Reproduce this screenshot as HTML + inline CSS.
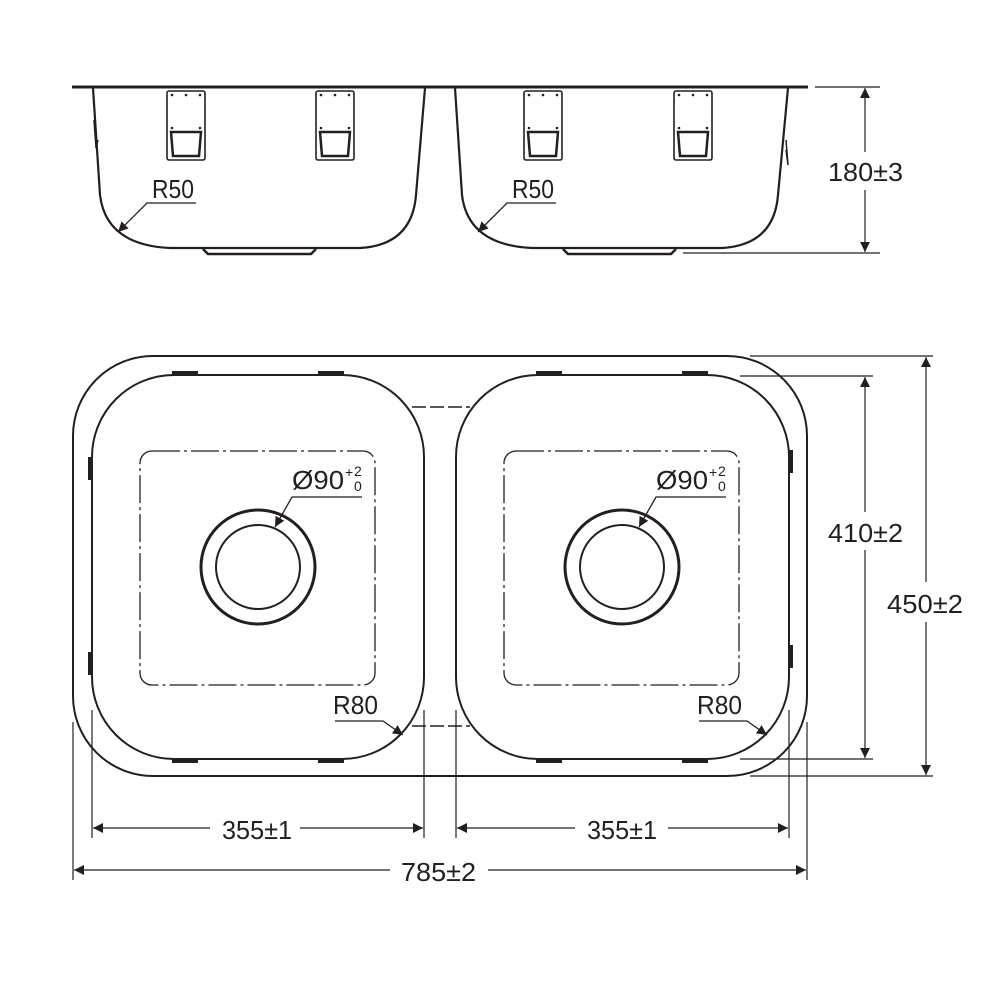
<!DOCTYPE html>
<html><head><meta charset="utf-8"><style>
html,body{margin:0;padding:0;background:#fff;}
svg{display:block}
text{font-family:"Liberation Sans",sans-serif;font-size:26px;fill:#231f20}
</style></head><body>
<svg width="1000" height="1000" viewBox="0 0 1000 1000" xmlns="http://www.w3.org/2000/svg">
<defs>
<marker id="a" viewBox="0 0 10 10" refX="10" refY="5" markerWidth="12" markerHeight="10" markerUnits="userSpaceOnUse" orient="auto-start-reverse"><path d="M0,0 L10,5 L0,10 z" fill="#231f20"/></marker>
</defs>
<g stroke="#231f20" fill="none">
<line x1="72" y1="87" x2="808" y2="87" stroke-width="3"/>
<path d="M93,88 L100,195 Q106,245 170,248 L360,248 Q412,245 416,195 L425,88" stroke-width="2.2"/>
<path d="M455,88 L462,195 Q468,245 532,248 L722,248 Q774,245 778,195 L788,88" stroke-width="2.2"/>
<path d="M203,249 L208,254 L311,254 L316,249" stroke-width="2.5"/>
<path d="M563,249 L568,254 L671,254 L676,249" stroke-width="2.5"/>
<path d="M94,120 L96,148 L98,140" stroke-width="1.5"/>
<path d="M786,140 L788,165 L786,150" stroke-width="1.5"/>
<g stroke-width="1.6">
<rect x="167" y="91" width="38" height="69" rx="2"/><path d="M171,132 L201,132 L199,156 L173,156 Z" stroke-width="2.5"/>
<rect x="316" y="91" width="38" height="69" rx="2"/><path d="M320,132 L350,132 L348,156 L322,156 Z" stroke-width="2.5"/>
<rect x="524" y="91" width="38" height="69" rx="2"/><path d="M528,132 L558,132 L556,156 L530,156 Z" stroke-width="2.5"/>
<rect x="674" y="91" width="38" height="69" rx="2"/><path d="M678,132 L708,132 L706,156 L680,156 Z" stroke-width="2.5"/>
</g>
<g fill="#231f20" stroke="none">
<circle cx="172" cy="95" r="1.3"/><circle cx="186" cy="95" r="1.3"/><circle cx="200" cy="95" r="1.3"/><circle cx="172" cy="128" r="1.3"/><circle cx="200" cy="128" r="1.3"/>
<circle cx="321" cy="95" r="1.3"/><circle cx="335" cy="95" r="1.3"/><circle cx="349" cy="95" r="1.3"/><circle cx="321" cy="128" r="1.3"/><circle cx="349" cy="128" r="1.3"/>
<circle cx="529" cy="95" r="1.3"/><circle cx="543" cy="95" r="1.3"/><circle cx="557" cy="95" r="1.3"/><circle cx="529" cy="128" r="1.3"/><circle cx="557" cy="128" r="1.3"/>
<circle cx="679" cy="95" r="1.3"/><circle cx="693" cy="95" r="1.3"/><circle cx="707" cy="95" r="1.3"/><circle cx="679" cy="128" r="1.3"/><circle cx="707" cy="128" r="1.3"/>
</g>
<path d="M196,203 L147,203 L118,232" stroke-width="1.3" marker-end="url(#a)"/>
<path d="M556,203 L507,203 L478,232" stroke-width="1.3" marker-end="url(#a)"/>
<line x1="815" y1="87" x2="880" y2="87" stroke-width="1.2"/>
<line x1="683" y1="253" x2="880" y2="253" stroke-width="1.2"/>
<line x1="865" y1="88" x2="865" y2="152" stroke-width="1.2" marker-start="url(#a)"/>
<line x1="865" y1="190" x2="865" y2="252" stroke-width="1.2" marker-end="url(#a)"/>

<rect x="73" y="356" width="734" height="420" rx="80" stroke-width="2"/>
<rect x="92" y="375" width="332" height="384" rx="82" stroke-width="2"/>
<rect x="456" y="375" width="333" height="384" rx="82" stroke-width="2"/>
<g stroke-width="1.3" stroke-dasharray="28,4,3,4">
<rect x="140" y="451" width="235" height="234" rx="12"/>
<rect x="504" y="451" width="235" height="234" rx="12"/>
</g>
<g stroke-width="1.5" stroke-dasharray="14,4">
<line x1="412" y1="407" x2="470" y2="407"/>
<line x1="412" y1="726" x2="470" y2="726"/>
</g>
<circle cx="258" cy="567" r="57" stroke-width="3"/>
<circle cx="258" cy="567" r="42" stroke-width="2"/>
<circle cx="622" cy="567" r="57" stroke-width="3"/>
<circle cx="622" cy="567" r="42" stroke-width="2"/>
<g stroke-width="4">
<line x1="172" y1="373" x2="198" y2="373"/><line x1="318" y1="373" x2="344" y2="373"/>
<line x1="172" y1="761" x2="198" y2="761"/><line x1="318" y1="761" x2="344" y2="761"/>
<line x1="536" y1="373" x2="562" y2="373"/><line x1="682" y1="373" x2="708" y2="373"/>
<line x1="536" y1="761" x2="562" y2="761"/><line x1="682" y1="761" x2="708" y2="761"/>
<line x1="90" y1="457" x2="90" y2="480"/><line x1="90" y1="652" x2="90" y2="675"/>
<line x1="791" y1="450" x2="791" y2="473"/><line x1="791" y1="645" x2="791" y2="668"/>
</g>
<path d="M362,497 L292,497 L275,527" stroke-width="1.3" marker-end="url(#a)"/>
<path d="M726,497 L656,497 L639,527" stroke-width="1.3" marker-end="url(#a)"/>
<path d="M335,721 L383,721 L403,735" stroke-width="1.3" marker-end="url(#a)"/>
<path d="M699,721 L747,721 L767,735" stroke-width="1.3" marker-end="url(#a)"/>
<line x1="740" y1="376" x2="873" y2="376" stroke-width="1.2"/>
<line x1="740" y1="759" x2="873" y2="759" stroke-width="1.2"/>
<line x1="750" y1="356" x2="933" y2="356" stroke-width="1.2"/>
<line x1="750" y1="776" x2="933" y2="776" stroke-width="1.2"/>
<line x1="865" y1="377" x2="865" y2="512" stroke-width="1.2" marker-start="url(#a)"/>
<line x1="865" y1="550" x2="865" y2="758" stroke-width="1.2" marker-end="url(#a)"/>
<line x1="926" y1="357" x2="926" y2="582" stroke-width="1.2" marker-start="url(#a)"/>
<line x1="926" y1="622" x2="926" y2="775" stroke-width="1.2" marker-end="url(#a)"/>
<line x1="73" y1="722" x2="73" y2="880" stroke-width="1.2"/>
<line x1="92" y1="710" x2="92" y2="838" stroke-width="1.2"/>
<line x1="424" y1="710" x2="424" y2="838" stroke-width="1.2"/>
<line x1="456" y1="710" x2="456" y2="838" stroke-width="1.2"/>
<line x1="789" y1="710" x2="789" y2="838" stroke-width="1.2"/>
<line x1="807" y1="722" x2="807" y2="880" stroke-width="1.2"/>
<line x1="93" y1="828" x2="210" y2="828" stroke-width="1.2" marker-start="url(#a)"/>
<line x1="300" y1="828" x2="423" y2="828" stroke-width="1.2" marker-end="url(#a)"/>
<line x1="457" y1="828" x2="575" y2="828" stroke-width="1.2" marker-start="url(#a)"/>
<line x1="668" y1="828" x2="788" y2="828" stroke-width="1.2" marker-end="url(#a)"/>
<line x1="74" y1="870" x2="390" y2="870" stroke-width="1.2" marker-start="url(#a)"/>
<line x1="488" y1="870" x2="806" y2="870" stroke-width="1.2" marker-end="url(#a)"/>
</g>
<text x="152" y="198" textLength="42" lengthAdjust="spacingAndGlyphs">R50</text>
<text x="512" y="198" textLength="42" lengthAdjust="spacingAndGlyphs">R50</text>
<text x="828" y="181" textLength="75" lengthAdjust="spacingAndGlyphs">180±3</text>
<text x="828" y="542" textLength="75" lengthAdjust="spacingAndGlyphs">410±2</text>
<text x="887" y="613" textLength="76" lengthAdjust="spacingAndGlyphs">450±2</text>
<text x="222" y="839" textLength="70" lengthAdjust="spacingAndGlyphs">355±1</text>
<text x="587" y="839" textLength="70" lengthAdjust="spacingAndGlyphs">355±1</text>
<text x="401" y="881" textLength="75" lengthAdjust="spacingAndGlyphs">785±2</text>
<text x="333" y="714" textLength="45" lengthAdjust="spacingAndGlyphs">R80</text>
<text x="697" y="714" textLength="45" lengthAdjust="spacingAndGlyphs">R80</text>
<text x="292" y="489" textLength="52" lengthAdjust="spacingAndGlyphs">Ø90</text>
<text x="345" y="477" style="font-size:14px">+</text><text x="354" y="476" style="font-size:14px">2</text><text x="354" y="491" style="font-size:14px">0</text>
<text x="656" y="489" textLength="52" lengthAdjust="spacingAndGlyphs">Ø90</text>
<text x="709" y="477" style="font-size:14px">+</text><text x="718" y="476" style="font-size:14px">2</text><text x="718" y="491" style="font-size:14px">0</text>
</svg>
</body></html>
